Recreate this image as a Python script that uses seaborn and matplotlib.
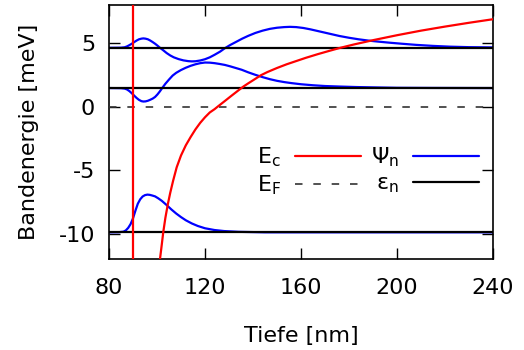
import matplotlib
matplotlib.use("Agg")
import matplotlib.pyplot as plt
import seaborn as sns
import pandas as pd
from matplotlib.lines import Line2D

# ---- data ----
ec_x = [101.25, 102.0, 102.6, 103.5, 104.5, 105.5, 106.7, 108.2, 110, 112, 114, 116,
        118, 120, 122, 124, 125.5, 128, 131, 134, 136, 138, 140, 143.3, 146, 150,
        154, 157.6, 162, 167, 172, 176.4, 182, 190, 200, 210, 220, 230, 240]
ec_y = [-12.0, -10.85, -9.9, -8.75, -7.7, -6.8, -5.85, -4.78, -3.85, -3.05, -2.4, -1.8,
        -1.28, -0.84, -0.46, -0.2, 0.03, 0.4, 0.85, 1.29, 1.58, 1.83, 2.07, 2.47, 2.72, 3.04,
        3.33, 3.56, 3.84, 4.13, 4.4, 4.63, 4.89, 5.23, 5.62, 5.98, 6.3, 6.6, 6.88]
wall_x = 90.0
ef_level = 0.0
eps_levels = [-9.9, 1.46, 4.63]

psi1_x = [80, 84, 86, 87, 88, 89, 90, 91, 92, 93, 94, 95, 96, 97, 98, 99.2, 100.5,
          102, 104, 106, 108, 110, 112, 114.5, 117, 120, 124, 128, 134, 145, 240]
psi1_y = [-9.9, -9.89, -9.85, -9.75, -9.55, -9.25, -8.8, -8.2, -7.65, -7.3, -7.08,
          -6.97, -6.93, -6.95, -7.0, -7.07, -7.22, -7.42, -7.75, -8.1, -8.42, -8.7,
          -8.95, -9.2, -9.4, -9.58, -9.72, -9.8, -9.86, -9.9, -9.9]

psi2_x = [80, 85, 86.5, 87.5, 88.5, 89.5, 90.5, 91.5, 92.5, 93.5, 94.3, 95.2, 96.2,
          97.2, 98.2, 99.2, 100.2, 101.2, 102.2, 103.5, 105, 106.5, 108, 110, 112,
          114, 116, 118, 120, 122, 124, 126, 128.3, 130.5, 133, 135.3, 138, 141,
          144, 147, 150, 153, 156, 160, 165, 170, 176, 183, 191, 200, 215, 240]
psi2_y = [1.46, 1.45, 1.42, 1.35, 1.22, 1.05, 0.86, 0.68, 0.53, 0.43, 0.40, 0.41, 0.46,
          0.54, 0.63, 0.76, 0.96, 1.2, 1.47, 1.8, 2.13, 2.44, 2.66, 2.88, 3.06,
          3.21, 3.33, 3.42, 3.47, 3.46, 3.42, 3.36, 3.28, 3.17, 3.03, 2.9, 2.7, 2.5,
          2.32, 2.16, 2.03, 1.93, 1.85, 1.76, 1.68, 1.62, 1.58, 1.54, 1.51, 1.48, 1.47, 1.46]

psi3_x = [80, 85, 86.5, 87.5, 88.5, 89.5, 90.5, 91.5, 92.5, 93.5, 94.3, 95.2, 96.2,
          97.2, 98.2, 99.2, 100.2, 101.25, 102.5, 104, 105.5, 107, 109, 111, 113,
          114.5, 116, 118, 120, 122, 124, 126.3, 128.3, 130.5, 133, 135.5, 138, 141,
          144, 147, 150, 153, 155.4, 158, 161, 164, 167, 170, 173, 176, 180, 184,
          188, 192, 197, 202, 208, 215, 222, 230, 240]
psi3_y = [4.63, 4.64, 4.67, 4.74, 4.84, 4.95, 5.08, 5.2, 5.3, 5.35, 5.37, 5.35, 5.3,
          5.2, 5.08, 4.95, 4.8, 4.63, 4.45, 4.22, 4.03, 3.88, 3.74, 3.64, 3.58,
          3.56, 3.57, 3.63, 3.73, 3.88, 4.08, 4.33, 4.6, 4.85, 5.1, 5.35, 5.57, 5.8,
          5.98, 6.12, 6.21, 6.26, 6.28, 6.26, 6.19, 6.08, 5.95, 5.82, 5.69, 5.56, 5.42, 5.3,
          5.2, 5.12, 5.03, 4.95, 4.86, 4.78, 4.72, 4.68, 4.66]

x_ticks = [80, 120, 160, 200, 240]
y_ticks = [-10, -5, 0, 5]
x_label = "Tiefe [nm]"
y_label = "Bandenergie [meV]"
legend_labels = ["E$_{\\rm c}$", "E$_{\\rm F}$", "\u03a8$_{\\rm n}$", "\u03b5$_{\\rm n}$"]

# ---- plot ----
sns.set_style("ticks")
plt.rcParams["font.family"] = ["DejaVu Sans"]
plt.rcParams["axes.unicode_minus"] = False
plt.rcParams["mathtext.fontset"] = "dejavusans"
plt.rcParams["text.color"] = "black"
plt.rcParams["axes.labelcolor"] = "black"
plt.rcParams["xtick.color"] = "black"
plt.rcParams["ytick.color"] = "black"

fig = plt.figure(figsize=(5.24, 3.5), dpi=100)
ax = fig.add_axes([109 / 524, 1 - 259 / 350, 384 / 524, 254 / 350])

blue = "#0000ff"
red = "#ff0000"
for px, py in [(psi1_x, psi1_y), (psi2_x, psi2_y), (psi3_x, psi3_y)]:
    df = pd.DataFrame({"x": px, "y": py})
    sns.lineplot(data=df, x="x", y="y", ax=ax, color=blue, lw=1.6,
                 estimator=None, sort=False, zorder=2)

for lv in eps_levels:
    ax.axhline(lv, color="black", lw=1.6, zorder=3)
ax.axhline(ef_level, color="#333333", lw=1.2, ls=(0, (4.5, 6.5)), zorder=3)

df_ec = pd.DataFrame({"x": ec_x, "y": ec_y})
sns.lineplot(data=df_ec, x="x", y="y", ax=ax, color=red, lw=1.6,
             estimator=None, sort=False, zorder=4)
ax.axvline(wall_x, color=red, lw=1.6, zorder=4)

ax.set_xlim(80, 240)
ax.set_ylim(-12, 8)
ax.set_xticks(x_ticks)
ax.set_yticks(y_ticks)
ax.set_xticklabels([str(t) for t in x_ticks])
ax.set_yticklabels([str(t) for t in y_ticks])
ax.tick_params(axis="both", direction="in", top=True, right=True, length=8,
               width=1.0, labelsize=16, colors="black", labelcolor="black")
ax.tick_params(axis="x", pad=14)
ax.tick_params(axis="y", pad=10)
for s in ax.spines.values():
    s.set_visible(True)
    s.set_linewidth(1.2)
    s.set_color("black")

ax.set_xlabel(x_label, fontsize=16, labelpad=20, color="black")
ax.set_ylabel(y_label, fontsize=16, labelpad=14, color="black")

handles = [Line2D([], [], color=red, lw=1.6),
           Line2D([], [], color="#333333", lw=1.2, ls=(0, (4.5, 6.5))),
           Line2D([], [], color=blue, lw=1.6),
           Line2D([], [], color="black", lw=1.6)]
leg = ax.legend(handles, legend_labels, ncol=2, markerfirst=False, frameon=False,
                fontsize=16, handlelength=2.95, handletextpad=0.65, columnspacing=0.45,
                labelspacing=0.22, borderpad=0, borderaxespad=0,
                loc="center right", bbox_to_anchor=(0.9635, 0.345))
for t in leg.get_texts():
    t.set_color("black")

fig.savefig("out.png", dpi=100)
